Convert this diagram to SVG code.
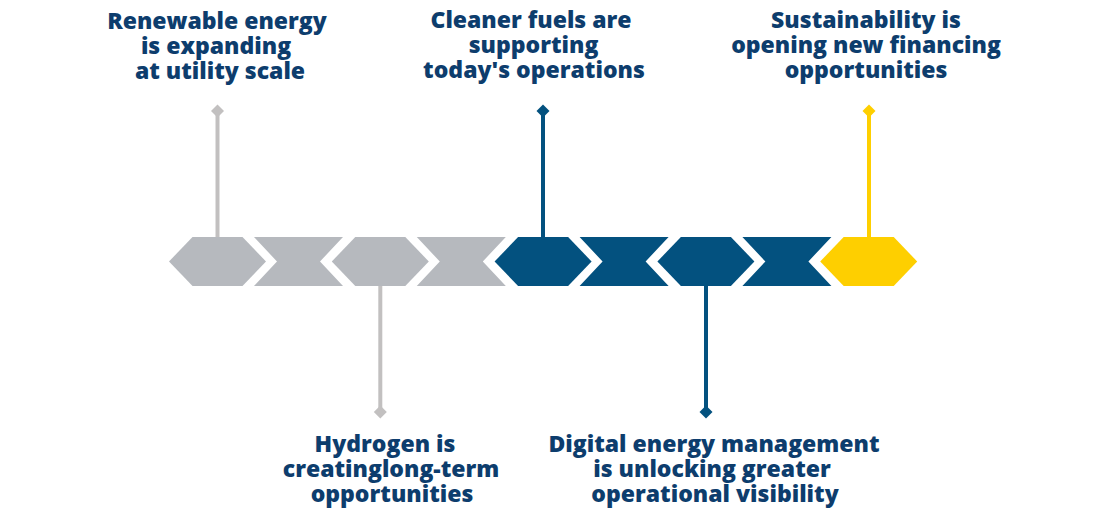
<svg xmlns="http://www.w3.org/2000/svg" width="1120" height="513" viewBox="0 0 1120 513">
<defs>
<style>
.t{font-family:"Open Sans","Noto Sans","Liberation Sans",sans-serif;font-weight:800;font-size:23px;fill:#0d3d6d;text-anchor:middle}
.g{fill:#b6b9be}
.b{fill:#03517f}
.y{fill:#fecf00}
.lg{stroke:#c2c0c0;stroke-width:4;fill:none}
.lb{stroke:#03517f;stroke-width:4;fill:none}
.ly{stroke:#fecf00;stroke-width:4;fill:none}
</style>
<polygon id="hex" points="0,24.5 23.5,0 73.5,0 97,24.5 73.5,49 23.5,49"/>
<polygon id="notch" points="85,0 174,0 151,24.5 174,49 85,49 108,24.5"/>
<polygon id="dia" points="0,-6.5 6.5,0 0,6.5 -6.5,0"/>
</defs>
<rect width="1120" height="513" fill="#ffffff"/>
<g id="connectors">
<line class="lg" x1="217.5" y1="237" x2="217.5" y2="111"/>
<use href="#dia" x="217.5" y="111" style="fill:#c2c0c0"/>
<line class="lg" x1="380.3" y1="286" x2="380.3" y2="412"/>
<use href="#dia" x="380.3" y="412" style="fill:#c2c0c0"/>
<line class="lb" x1="543" y1="237" x2="543" y2="111"/>
<use href="#dia" x="543" y="111" style="fill:#03517f"/>
<line class="lb" x1="706" y1="286" x2="706" y2="412"/>
<use href="#dia" x="706" y="412" style="fill:#03517f"/>
<line class="ly" x1="869" y1="237" x2="869" y2="111"/>
<use href="#dia" x="869" y="111" style="fill:#fecf00"/>
</g>
<g id="node1"><use href="#hex" x="169" y="237" class="g"/></g>
<g id="node2"><use href="#notch" x="169" y="237" class="g"/></g>
<g id="node3"><use href="#hex" x="331.8" y="237" class="g"/></g>
<g id="node4"><use href="#notch" x="331.8" y="237" class="g"/></g>
<g id="node5"><use href="#hex" x="494.6" y="237" class="b"/></g>
<g id="node6"><use href="#notch" x="494.6" y="237" class="b"/></g>
<g id="node7"><use href="#hex" x="657.4" y="237" class="b"/></g>
<g id="node8"><use href="#notch" x="657.4" y="237" class="b"/></g>
<g id="node9"><use href="#hex" x="820.2" y="237" class="y"/></g>
<g id="label1">
<text class="t" x="217" y="29">Renewable energy</text>
<text class="t" x="216" y="54">is expanding</text>
<text class="t" x="220" y="79">at utility scale</text>
</g>
<g id="label2">
<text class="t" x="385" y="452">Hydrogen is</text>
<text class="t" x="391" y="477">creatinglong-term</text>
<text class="t" x="392" y="502">opportunities</text>
</g>
<g id="label3">
<text class="t" x="531" y="28">Cleaner fuels are</text>
<text class="t" x="533.5" y="53">supporting</text>
<text class="t" x="534" y="78">today's operations</text>
</g>
<g id="label4">
<text class="t" x="714" y="452">Digital energy management</text>
<text class="t" x="712" y="477">is unlocking greater</text>
<text class="t" x="715" y="502">operational visibility</text>
</g>
<g id="label5">
<text class="t" x="866" y="28">Sustainability is</text>
<text class="t" x="866" y="53">opening new financing</text>
<text class="t" x="866" y="78">opportunities</text>
</g>
</svg>
